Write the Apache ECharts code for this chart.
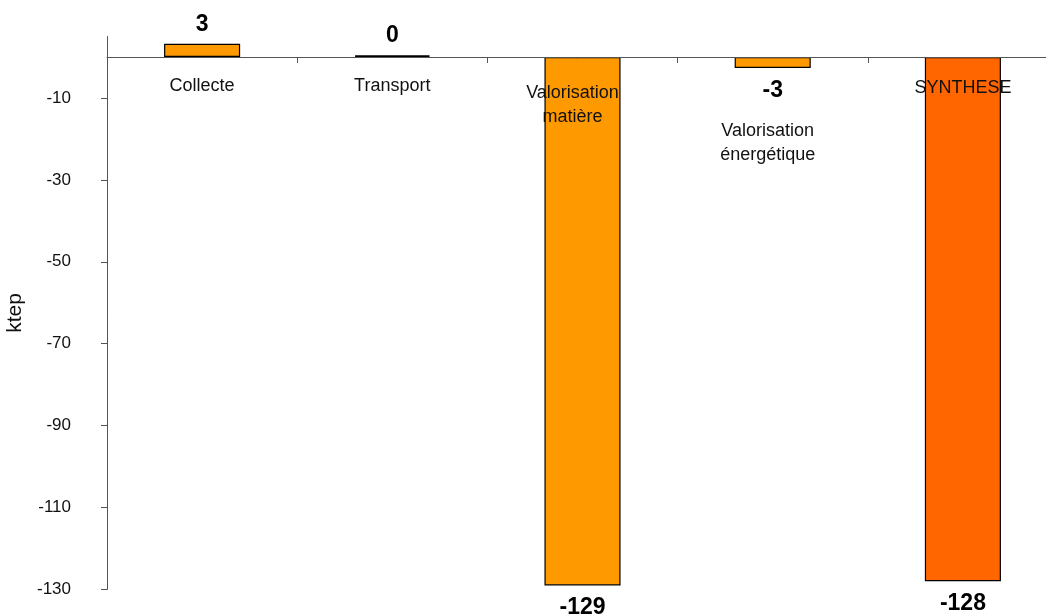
<!DOCTYPE html>
<html>
<head>
<meta charset="utf-8">
<script src="https://cdn.jsdelivr.net/npm/echarts@6/dist/echarts.min.js"></script>
<style>
html,body{margin:0;padding:0;background:#fff;}
#chart{width:1046px;height:614px;}
</style>
</head>
<body>
<div id="chart"></div>
<script>
// ---- data ----
const categories = ['Collecte', 'Transport', 'Valorisation\nmatière', 'Valorisation\nénergétique', 'SYNTHESE'];
const values = [3.2, 0.4, -129, -2.7, -128];
const yTicks = [-10, -30, -50, -70, -90, -110, -130];
const yAxisName = 'ktep';

// ---- styles ----
const FONT = 'Liberation Sans';
const barColors = ['#FF9900', '#FF9900', '#FF9900', '#FF9900', '#FF6600'];
// offsets (px) of each category label from the point (category, 0) on the zero line
const catLabelOffset = [[0, 29], [0, 29], [-10, 48], [-5, 86], [0, 31]];

const chart = echarts.init(document.getElementById('chart'), null, {renderer: 'canvas'});

const option = {
  animation: false,
  backgroundColor: '#ffffff',
  grid: {left: 107, right: -12, top: 36.5, bottom: 24.5, containLabel: false, outerBoundsMode: 'none'},
  xAxis: {
    type: 'category',
    z: 10,
    data: categories,
    boundaryGap: true,
    axisLine: {onZero: true, lineStyle: {color: '#555555', width: 1}},
    axisTick: {show: true, length: 6, inside: false, alignWithLabel: false, lineStyle: {color: '#555555'}},
    axisLabel: {show: false},
    splitLine: {show: false}
  },
  yAxis: {
    type: 'value',
    min: -130, max: 5, interval: 20,
    name: yAxisName,
    nameLocation: 'middle',
    nameGap: 79,
    nameRotate: 90,
    nameTextStyle: {fontFamily: FONT, fontSize: 21, color: '#111111', padding: [0, 0, 0, 0]},
    axisLine: {show: true, onZero: false, lineStyle: {color: '#555555', width: 1}},
    axisTick: {show: true, length: 6, customValues: yTicks, lineStyle: {color: '#555555'}},
    axisLabel: {
      customValues: yTicks,
      margin: 36, color: '#111111', fontFamily: FONT, fontSize: 17
    },
    splitLine: {show: false}
  },
  series: [{
    type: 'bar',
    barWidth: '40%',
    data: values.map((v, i) => ({
      value: v,
      itemStyle: {color: barColors[i], borderColor: '#000000', borderWidth: Math.abs(v) < 1 ? 2 : 1.2},
      label: v >= 0 ? {position: 'top', distance: 8} : {position: 'bottom', distance: 11}
    })),
    label: {
      show: true,
      fontFamily: FONT, fontSize: 23, fontWeight: 'bold', color: '#000000',
      formatter: p => String(Math.round(p.value))
    }
  }]
};
chart.setOption(option);

// category labels placed at the zero line through the chart's own scales
const graphics = categories.map((c, i) => {
  const pt = chart.convertToPixel({gridIndex: 0}, [c, 0]);
  return {
    type: 'text',
    z: 100,
    x: pt[0] + catLabelOffset[i][0],
    y: pt[1] + catLabelOffset[i][1],
    style: {
      text: c,
      fontFamily: FONT, fontSize: 18, lineHeight: 24,
      fill: '#111111',
      textAlign: 'center', textVerticalAlign: 'middle'
    }
  };
});
chart.setOption({graphic: graphics});
</script>
</body>
</html>
